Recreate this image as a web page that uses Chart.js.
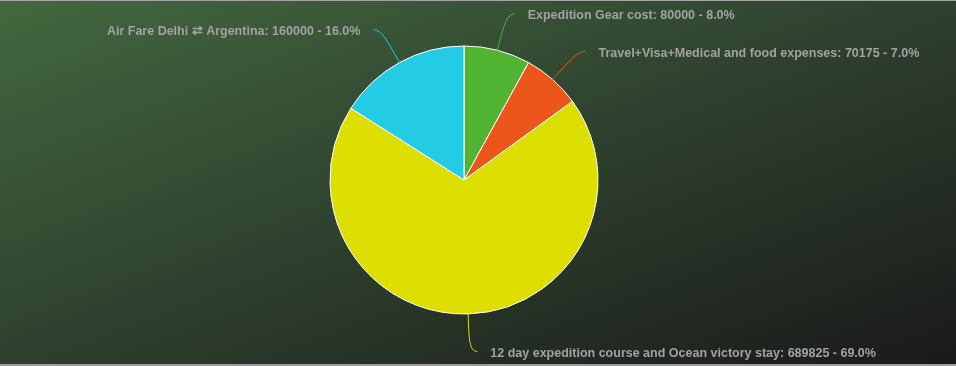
<!DOCTYPE html>
<html>
<head>
<meta charset="utf-8">
<script src="https://cdn.jsdelivr.net/npm/chart.js@4/dist/chart.umd.min.js"></script>
<style>
  html, body { margin: 0; padding: 0; background: #1a1a1a; }
  #wrap {
    width: 956px; height: 363px; position: relative;
    border-top: 1px solid #a4a4a4; border-bottom: 2px solid #9c9c9c;
    background: linear-gradient(to bottom right, #43683f 0%, #2e402e 50%, #1a1a1a 100%);
  }
</style>
</head>
<body>
<div id="wrap"><canvas id="c"></canvas></div>
<script>
const categories = [
  "Expedition Gear cost",
  "Travel+Visa+Medical and food expenses",
  "12 day expedition course and Ocean victory stay",
  "Air Fare Delhi \u21C4 Argentina"
];
const values = [80000, 70175, 689825, 160000];
const colors = ["#50B432", "#ED561B", "#DDDF00", "#24CBE5"];

const total = values.reduce((a, b) => a + b, 0);
const labelTexts = categories.map((c, i) => c + ": " + values[i] + " - " + (values[i] / total * 100).toFixed(1) + "%");

const labelPlugin = {
  id: "outerLabels",
  afterDatasetsDraw(chart) {
    const ctx = chart.ctx;
    const meta = chart.getDatasetMeta(0);
    ctx.save();
    ctx.font = "bold 12.5px 'Liberation Sans', Arial, sans-serif";
    ctx.textBaseline = "middle";
    meta.data.forEach((arc, i) => {
      const p = arc.getProps(["x", "y", "startAngle", "endAngle", "outerRadius"], true);
      const mid = (p.startAngle + p.endAngle) / 2;
      const cos = Math.cos(mid), sin = Math.sin(mid);
      const r = p.outerRadius;
      const R2 = r + 37.5;
      const sx = p.x + r * cos, sy = p.y + r * sin;
      const kx = p.x + R2 * cos, ky = p.y + R2 * sin;
      const sign = cos >= 0 ? 1 : -1;
      const ex = kx + sign * 8, ey = ky;
      const c1x = p.x + (r + 26) * cos, c1y = p.y + (r + 26) * sin;
      ctx.strokeStyle = colors[i];
      ctx.lineWidth = 1;
      ctx.beginPath();
      ctx.moveTo(sx, sy);
      ctx.bezierCurveTo(c1x, c1y, kx, ky, ex, ey);
      ctx.stroke();
      ctx.fillStyle = "#a2a2a2";
      ctx.textAlign = sign > 0 ? "left" : "right";
      ctx.fillText(labelTexts[i], ex + sign * 13, ey + 2);
    });
    ctx.restore();
  }
};

new Chart(document.getElementById("c"), {
  type: "pie",
  data: {
    labels: categories,
    datasets: [{
      data: values,
      backgroundColor: colors,
      borderColor: "#ffffff",
      borderWidth: 1,
      hoverOffset: 0,
      radius: 134
    }]
  },
  options: {
    responsive: true,
    maintainAspectRatio: false,
    animation: false,
    layout: { padding: { left: 0, right: 28, top: 45, bottom: 50 } },
    plugins: { legend: { display: false }, tooltip: { enabled: false } }
  },
  plugins: [labelPlugin]
});
</script>
</body>
</html>
